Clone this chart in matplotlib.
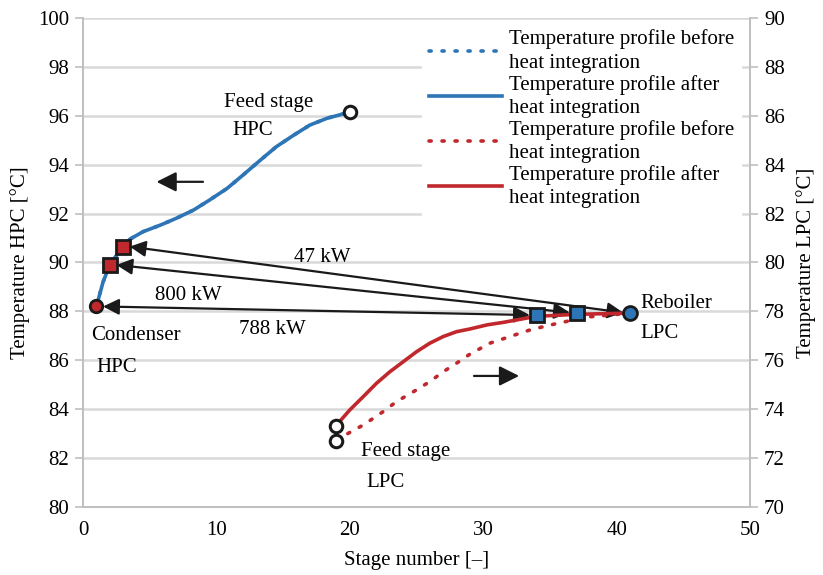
import matplotlib.pyplot as plt
from matplotlib.lines import Line2D

plt.rc('font', family=['Liberation Serif', 'DejaVu Serif'])
plt.rc('font', size=15)

# HPC profile (left axis), stage number vs temperature
hpc_stage = [1, 1.5, 2, 3, 3.5, 4.5, 5.8, 7.0, 8.3, 9.5, 10.8, 12.0, 13.3,
             14.5, 15.8, 17.0, 18.3, 20]
hpc_after = [88.2, 89.2, 89.9, 90.65, 90.95, 91.26, 91.53, 91.81, 92.15, 92.56,
             93.03, 93.58, 94.19, 94.74, 95.21, 95.62, 95.9, 96.15]
hpc_before = hpc_after  # lies under the "after" curve

# LPC profiles (right axis)
lpc_stage_after = [19, 20, 21, 22, 23, 24, 25, 26, 27, 28, 29, 30.3, 31.5,
                   34, 37, 41]
lpc_after = [73.35, 73.97, 74.51, 75.06, 75.53, 75.94, 76.35, 76.7, 76.97,
             77.17, 77.28, 77.45, 77.55, 77.8, 77.88, 77.93]
lpc_stage_before = [19, 20, 21, 22.5, 23.5, 25, 26, 27, 28, 29, 30.5, 32,
                    33.5, 35, 36.5, 38, 39.5, 41]
lpc_before = [72.74, 73.05, 73.35, 73.9, 74.31, 74.79, 75.13, 75.53, 75.88,
              76.25, 76.7, 76.97, 77.24, 77.44, 77.62, 77.78, 77.85, 77.93]

# heat exchange links: (HPC stage, HPC temp) <-> (LPC stage, LPC temp)
links_hpc = [(3, 90.65), (2, 89.9), (1, 88.2)]
links_lpc = [(41, 77.95), (37, 77.95), (34, 77.85)]
duty_labels = ["47 kW", "800 kW", "788 kW"]
duty_pos = [(17.9, 90.2), (7.9, 88.67), (14.2, 87.24)]

blue = '#2E75B6'
red = '#C0282D'
grey = '#D9D9D9'
dots = (0, (0.6, 3.0))

fig = plt.figure(figsize=(8.23, 5.75), dpi=100)
ax = fig.add_axes([0.1009, 0.1183, 0.8104, 0.8504])
ax2 = ax.twinx()

ax.set_xlim(0, 50)
ax.set_ylim(80, 100)
ax2.set_ylim(70, 90)
ax.set_xticks(range(0, 51, 10))
ax.set_yticks(range(80, 101, 2))
ax2.set_yticks(range(70, 91, 2))

ax.yaxis.grid(True, color=grey, lw=1.8)
ax.set_axisbelow(True)
for a in (ax, ax2):
    a.spines['top'].set_visible(False)
    for s in ['left', 'right', 'bottom']:
        a.spines[s].set_color('#BFBFBF')
        a.spines[s].set_linewidth(1.2)
    a.tick_params(axis='y', color='#BFBFBF', length=6, width=1.2, pad=4)
ax.tick_params(axis='x', length=0, pad=10)

# profiles
ax.plot(hpc_stage, hpc_before, color=blue, lw=2.6, ls=dots, dash_capstyle='round')
ax.plot(hpc_stage, hpc_after, color=blue, lw=2.6)
ax2.plot(lpc_stage_before, lpc_before, color=red, lw=2.6, ls=dots, dash_capstyle='round')
ax2.plot(lpc_stage_after, lpc_after, color=red, lw=2.6)

# markers
ax.plot([1], [88.2], 'o', ms=9, mfc=red, mec='#1a1a1a', mew=2, zorder=5)
ax.plot([2, 3], [89.9, 90.65], 's', ms=10, mfc=red, mec='#1a1a1a', mew=2, zorder=5)
ax2.plot([34, 37], [77.85, 77.95], 's', ms=10, mfc=blue, mec='#1a1a1a', mew=2, zorder=5)
ax2.plot([41], [77.95], 'o', ms=10, mfc=blue, mec='#1a1a1a', mew=2, zorder=5)
ax.plot([20], [96.15], 'o', ms=9, mfc='white', mec='#1a1a1a', mew=2.2, zorder=5)
ax2.plot([19, 19], [73.3, 72.7], 'o', ms=9, mfc='white', mec='#1a1a1a', mew=2.2, zorder=5)

# heat exchange arrows (drawn in HPC coordinates)
for (xs, ys), (xl, yl), lab, (tx, ty) in zip(links_hpc, links_lpc, duty_labels, duty_pos):
    ax.annotate('', xy=(xs + 0.5, ys), xytext=(xl - 0.5, yl + 10),
                arrowprops=dict(arrowstyle='<|-|>', color='#1a1a1a', lw=1.6,
                                mutation_scale=24, shrinkA=0, shrinkB=0), zorder=4)
    ax.text(tx, ty, lab, ha='center', va='center')

# direction arrows
ax.annotate('', xy=(5.3, 93.3), xytext=(9.2, 93.3),
            arrowprops=dict(arrowstyle='-|>', color='#1a1a1a', lw=1.6, mutation_scale=30))
ax.annotate('', xy=(32.9, 85.36), xytext=(29.1, 85.36),
            arrowprops=dict(arrowstyle='-|>', color='#1a1a1a', lw=1.6, mutation_scale=30))

# text labels
ax.text(13.95, 96.56, "Feed stage", ha='center', va='center')
ax.text(12.7, 95.38, "HPC", ha='center', va='center')
ax.text(4.0, 87.03, "Condenser", ha='center', va='center')
ax.text(2.5, 85.7, "HPC", ha='center', va='center')
ax.text(24.2, 82.25, "Feed stage", ha='center', va='center')
ax.text(22.7, 81.0, "LPC", ha='center', va='center')
ax.text(44.5, 88.34, "Reboiler", ha='center', va='center')
ax.text(43.25, 87.1, "LPC", ha='center', va='center')

ax.set_xlabel("Stage number [\u2013]", labelpad=8)
ax.set_ylabel("Temperature HPC [\u00b0C]", labelpad=6)
ax2.set_ylabel("Temperature LPC [\u00b0C]", labelpad=8)

handles = [Line2D([], [], color=blue, lw=2.6, ls=dots, dash_capstyle='round'),
           Line2D([], [], color=blue, lw=2.6),
           Line2D([], [], color=red, lw=2.6, ls=dots, dash_capstyle='round'),
           Line2D([], [], color=red, lw=2.6)]
labels = ["Temperature profile before\nheat integration",
          "Temperature profile after\nheat integration",
          "Temperature profile before\nheat integration",
          "Temperature profile after\nheat integration"]
leg = ax2.legend(handles, labels, loc='upper right', bbox_to_anchor=(0.993, 1.0),
                 frameon=True, facecolor='white', edgecolor='white', framealpha=1,
                 fancybox=False, handlelength=3.5, handletextpad=0.3,
                 labelspacing=0.1, borderaxespad=0.2, borderpad=0.35, fontsize=15)
for t in leg.get_texts():
    t.set_linespacing(1.3)

plt.savefig("out.png")
